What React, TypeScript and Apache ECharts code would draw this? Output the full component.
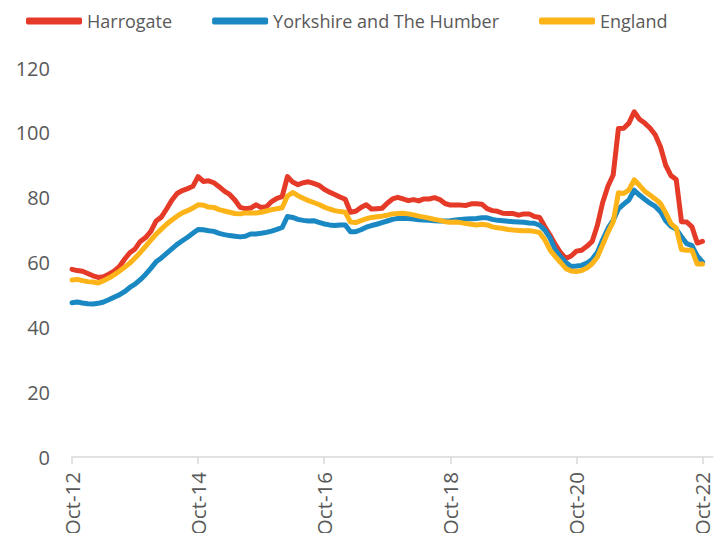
import React, { useEffect, useRef } from "react";
import * as echarts from "echarts";

const monthNames = ["Jan", "Feb", "Mar", "Apr", "May", "Jun", "Jul", "Aug", "Sep", "Oct", "Nov", "Dec"];
// Oct-12 .. Dec-22 (axis runs two months past the last data point)
const categories: string[] = [];
for (let k = 0; k < 123; k++) {
  const m = (9 + k) % 12;
  const y = 12 + Math.floor((9 + k) / 12);
  categories.push(`${monthNames[m]}-${y}`);
}

const harrogate = [
  57.9, 57.5, 57.3, 56.6, 55.9, 55.4, 55.6, 56.4, 57.3, 58.7,
  61, 63, 64.2, 66.5, 67.7, 69.6, 72.8, 74, 76.5, 79.2,
  81.3, 82.2, 82.8, 83.5, 86.5, 85, 85.2, 84.6, 83.4, 82,
  81, 79.3, 77, 76.6, 76.8, 77.8, 77, 77.2, 78.8, 79.8,
  80.3, 86.5, 84.8, 84, 84.6, 84.9, 84.4, 83.8, 82.6, 81.7,
  81, 80.2, 79.5, 75.5, 75.8, 77, 77.8, 76.5, 76.6, 76.7,
  78.3, 79.6, 80.1, 79.6, 79.1, 79.4, 79, 79.6, 79.6, 80,
  79.4, 78.2, 77.7, 77.7, 77.7, 77.6, 78.1, 78.1, 78, 76.6,
  76, 75.8, 75.2, 75.1, 75.1, 74.6, 75, 75, 74.2, 73.9,
  71, 68.4, 65.5, 63, 61.2, 62, 63.5, 63.8, 65, 66.5,
  71.5, 78.5, 83.5, 87, 101.3, 101.4, 103, 106.5, 104.2, 103,
  101.5, 99.4, 95.7, 90, 86.8, 85.6, 72.6, 72.5, 71, 66,
  66.5,
];

const yorkshire = [
  47.6, 47.8, 47.5, 47.3, 47.2, 47.4, 47.8, 48.5, 49.3, 50,
  51, 52.3, 53.3, 54.7, 56.3, 58.2, 60.2, 61.4, 62.8, 64.2,
  65.6, 66.7, 67.8, 69, 70.2, 70.1, 69.8, 69.6, 69, 68.6,
  68.3, 68.1, 67.9, 68.1, 68.8, 68.8, 69, 69.3, 69.7, 70.2,
  70.8, 74.2, 73.9, 73.3, 73, 72.8, 72.9, 72.4, 71.9, 71.6,
  71.4, 71.6, 71.6, 69.5, 69.5, 70.1, 70.9, 71.4, 71.8, 72.3,
  72.8, 73.3, 73.6, 73.6, 73.6, 73.4, 73.2, 73.1, 73, 72.9,
  72.8, 72.8, 72.9, 73.1, 73.3, 73.4, 73.5, 73.6, 73.8, 73.8,
  73.3, 73, 72.9, 72.7, 72.6, 72.5, 72.4, 72.2, 72.1, 71.5,
  70, 67.5, 63.8, 61.8, 60, 58.8, 58.9, 59.1, 59.8, 61,
  63.2, 67, 70.5, 73, 76.5, 78, 79.3, 82.3, 80.8, 79.5,
  78.3, 77.3, 75.7, 72.9, 71.2, 70.3, 68, 65.8, 65.2, 62,
  60.2,
];

const england = [
  54.6, 54.8, 54.4, 54.1, 54, 53.7, 54.4, 55.2, 56.2, 57.3,
  58.5, 59.8, 61.4, 63.1, 65, 66.9, 68.7, 70.3, 71.8, 73.1,
  74.3, 75.3, 76, 76.8, 77.8, 77.7, 77.1, 77, 76.3, 75.9,
  75.5, 75.1, 75, 75.3, 75.3, 75.3, 75.5, 75.9, 76.3, 76.6,
  76.9, 80.5, 81.6, 80.6, 79.8, 79.1, 78.5, 77.9, 77.1, 76.5,
  76, 75.7, 75.5, 72.5, 72.3, 72.9, 73.5, 73.9, 74.1, 74.3,
  74.6, 75, 75.1, 75.2, 75, 74.7, 74.3, 74, 73.7, 73.3,
  73, 72.6, 72.4, 72.5, 72.3, 72, 71.8, 71.6, 71.8, 71.6,
  71, 70.7, 70.5, 70.2, 70, 69.9, 69.8, 69.8, 69.6, 69.2,
  67, 63.8, 61.8, 60, 58.1, 57.4, 57.2, 57.5, 58.3, 59.6,
  61.7, 65.5, 69.3, 72.5, 81.5, 81.3, 82.4, 85.5, 83.8, 82,
  80.8, 79.6, 78.2, 75.3, 72, 70.6, 64, 63.8, 63.8, 59.5,
  59.5,
];

const seriesNames = ["Harrogate", "Yorkshire and The Humber", "England"];
const seriesColors = ["#E53A28", "#1A88C2", "#FDB419"];
const yTicks = { min: 0, max: 120, interval: 20 };

export default function App() {
  const ref = useRef<HTMLDivElement>(null);
  useEffect(() => {
    if (!ref.current) return;
    const chart = echarts.init(ref.current, undefined, { renderer: "svg" });
    const datasets = [harrogate, yorkshire, england];
    const textColor = "#595959";
    const font = "'Open Sans', sans-serif";
    chart.setOption({
      animation: false,
      backgroundColor: "#ffffff",
      legend: {
        left: 21,
        top: 7,
        icon: "roundRect",
        itemWidth: 56,
        itemHeight: 7,
        itemGap: 40,
        textStyle: { color: textColor, fontSize: 18, fontFamily: font },
        data: seriesNames,
      },
      grid: {
        left: 72,
        right: 11,
        top: 68,
        bottom: 76,
        containLabel: false,
        outerBoundsMode: "none",
      },
      xAxis: {
        type: "category",
        data: categories,
        boundaryGap: false,
        axisLine: { show: true, lineStyle: { color: "#d9d9d9", width: 1.5 } },
        axisTick: {
          show: true,
          length: 7,
          interval: (i: number) => i % 24 === 0,
          lineStyle: { color: "#d9d9d9", width: 1.5 },
        },
        axisLabel: {
          interval: (i: number) => i % 24 === 0,
          rotate: 90,
          margin: 15,
          color: textColor,
          fontSize: 20.5,
          fontFamily: font,
        },
        splitLine: { show: false },
      },
      yAxis: {
        type: "value",
        min: yTicks.min,
        max: yTicks.max,
        interval: yTicks.interval,
        axisLine: { show: false },
        axisTick: { show: false },
        splitLine: { show: false },
        axisLabel: { color: textColor, fontSize: 20, fontFamily: font, margin: 22 },
      },
      series: seriesNames.map((name, k) => ({
        name,
        type: "line",
        data: datasets[k],
        showSymbol: false,
        symbol: "none",
        color: seriesColors[k],
        lineStyle: { color: seriesColors[k], width: 5, join: "round", cap: "round" },
      })),
    });
    return () => chart.dispose();
  }, []);
  return (
    <div
      ref={ref}
      style={{ position: "absolute", left: 0, top: 0, width: 724, height: 533, background: "#fff" }}
    />
  );
}
